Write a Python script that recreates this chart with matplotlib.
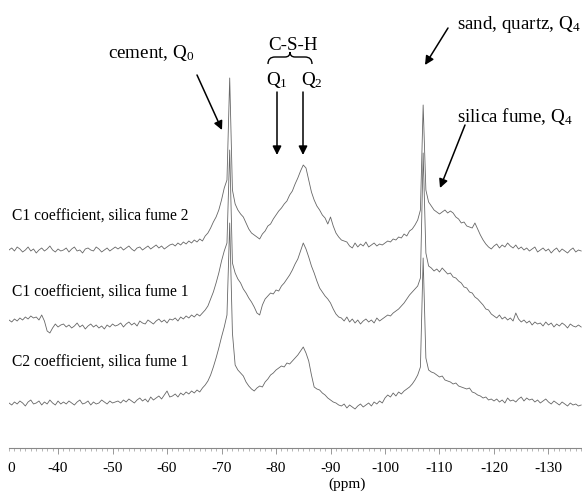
import numpy as np
import matplotlib
matplotlib.use("Agg")
import matplotlib.pyplot as plt
from matplotlib.path import Path
from matplotlib.patches import PathPatch

plt.rcParams['font.family'] = ['Liberation Serif', 'DejaVu Serif']
plt.rcParams['mathtext.fontset'] = 'custom'
plt.rcParams['mathtext.rm'] = 'Liberation Serif'
plt.rcParams['mathtext.it'] = 'Liberation Serif:italic'
plt.rcParams['axes.unicode_minus'] = False

# chemical shift grid, ppm (-31 ... -136, 0.5 ppm step)
ppm = -31 - 0.5 * np.arange(211)

# intensity above own baseline (arbitrary units)
h_c1_sf2 = [0, 2, -1, 3, 1, -2, 0, 3, -1, 1, -3, 0, 2, -1, 1, 4, 0, -2, 1, -1,
            0, 2, -2, 1, 3, -1, 0, -3, 1, 2, 0, -1, 3, 1, -2, 0, 2, -1, 1, 3,
            1, 3, 0, 2, 4, 1, -1, 2, 3, 0, 2, 4, 1, 3, 5, 2, 4, 1, 3, 5,
            6, 4, 7, 5, 8, 6, 9, 7, 10, 8, 11, 9, 14, 17, 22, 28, 33, 40, 50, 62,
            70, 172, 60, 46, 40, 36, 33, 27, 21, 17, 15, 13, 11, 16, 19, 24, 26, 31, 35, 39,
            42, 46, 49, 55, 59, 66, 72, 79, 85, 82, 70, 58, 50, 44, 40, 35, 32, 26, 33, 24,
            17, 13, 10, 9, 8, 4, 2, 7, 3, 6, 4, 8, 3, 5, 7, 4, 6, 5, 7, 9,
            8, 11, 10, 13, 12, 16, 14, 19, 21, 25, 30, 40, 145, 60, 48, 44, 40, 38, 36, 38,
            40, 37, 39, 37, 33, 31, 27, 28, 24, 23, 22, 27, 21, 15, 10, 6, 3, 1, 4, 6,
            2, 5, 3, 7, 4, 2, 5, 1, 3, 0, 2, -1, 1, 3, -2, 0, 2, -1, 1, -3,
            0, 2, -2, 1, -1, -3, 0, 2, -2, 0, -1]
h_c1_sf1 = [3, 1, 4, 2, 5, 3, 6, 4, 7, 5, 6, 3, 8, 2, -8, -10, -5, -1, -4, -2,
            -1, -4, -2, -5, -3, 0, -4, -2, -6, -3, -1, -4, -2, -5, -3, -6, -2, -4, -1, -3,
            -2, 0, -4, -1, 1, -2, 0, -3, 2, 0, -1, 3, 1, -1, 2, 4, 1, 3, 0, 4,
            3, 5, 2, 6, 4, 7, 5, 8, 6, 9, 7, 10, 13, 17, 24, 31, 40, 50, 62, 72,
            80, 173, 60, 50, 44, 40, 34, 30, 25, 21, 16, 10, 8, 18, 24, 27, 30, 29, 33, 32,
            37, 40, 44, 48, 53, 59, 64, 72, 80, 74, 66, 57, 50, 42, 35, 31, 27, 24, 20, 14,
            9, 6, 5, 2, 6, 1, 4, 0, 3, -1, 2, 4, 1, 3, 0, 5, 2, 4, 6, 8,
            7, 10, 12, 14, 17, 20, 24, 28, 31, 34, 37, 45, 170, 70, 57, 55, 52, 54, 51, 55,
            52, 49, 50, 46, 45, 42, 40, 36, 35, 31, 30, 26, 24, 21, 18, 14, 13, 9, 7, 5,
            8, 4, 6, 3, 5, 2, 10, 4, 1, 3, 0, 2, -2, 1, -1, 0, -3, 1, -2, 0,
            -4, -1, -3, 0, -2, -5, -1, -3, -4, -2, -4]
h_c2_sf1 = [0, -2, 1, -1, 2, 0, -3, 1, 3, -1, 0, 2, -2, 1, -1, 3, 0, -2, 2, -1,
            1, -1, 2, 0, -2, 1, 3, -1, 0, 2, -2, 1, -1, 0, 3, 1, -1, 2, 0, 1,
            2, 0, 3, 1, 4, 2, 0, 3, 5, 2, 4, 1, 6, 3, 5, 7, 4, 8, 12, 6,
            7, 9, 6, 10, 8, 11, 9, 12, 10, 13, 11, 15, 18, 22, 28, 36, 45, 55, 66, 76,
            88, 180, 70, 38, 33, 30, 27, 21, 17, 14, 12, 15, 17, 16, 21, 24, 28, 30, 33, 35,
            37, 36, 40, 39, 42, 45, 48, 52, 56, 50, 42, 28, 16, 14, 13, 10, 8, 5, 3, 1,
            0, -2, -3, -1, -5, -2, -4, -6, -3, -1, -4, -2, 0, -3, 1, -1, 2, 0, 5, 8,
            6, 10, 7, 11, 9, 12, 14, 16, 19, 23, 28, 36, 145, 45, 33, 31, 30, 28, 26, 27,
            23, 22, 21, 19, 20, 17, 16, 15, 14, 15, 11, 10, 8, 7, 5, 6, 3, 4, 2, 4,
            1, 3, 0, 5, 2, 3, 1, 4, 6, 2, 5, 3, 4, 1, 3, 0, 2, 4, 1, -1,
            2, 0, -2, 1, -1, -3, 0, -2, -1, -3, -2]

labels = ["C1 coefficient, silica fume 2",
          "C1 coefficient, silica fume 1",
          "C2 coefficient, silica fume 1"]
offsets = [198, 125, 45]
xticks = [-40, -50, -60, -70, -80, -90, -100, -110, -120, -130]

W, H = 582, 492


def px(x, y):
    # pixel position in the picture -> figure fraction
    return (x / W, 1 - y / H)


fig = plt.figure(figsize=(W / 100, H / 100), dpi=100)
ax = fig.add_axes([9 / W, 1 - 448 / H, 1 - 9 / W, 448 / H])
ax.set_xlim(-31.0, -136.15)
ax.set_ylim(0, 448)

for h, off in zip([h_c1_sf2, h_c1_sf1, h_c2_sf1], offsets):
    ax.plot(ppm, np.array(h) + off, color='#666666', lw=0.6)

for s in ['top', 'left', 'right']:
    ax.spines[s].set_visible(False)
ax.spines['bottom'].set_color('#888888')
ax.spines['bottom'].set_linewidth(0.8)
ax.set_yticks([])
ax.set_xticks(xticks)
ax.set_xticklabels([str(t) for t in xticks], fontsize=11)
ax.set_xticks(np.arange(-31, -137, -1), minor=True)
ax.tick_params(axis='x', which='major', length=4, width=0.6, color='#888888', pad=6)
ax.tick_params(axis='x', which='minor', length=2.5, width=0.5, color='#999999')

# what is left of the cropped "-30" label at the left edge
fig.text(*px(11.5, 472), "0", fontsize=11, ha='center', va='baseline')
fig.text(*px(347, 488), "(ppm)", fontsize=11, ha='center', va='baseline')

# trace labels
for lab, yb in zip(labels, [220, 296, 366]):
    fig.text(*px(12, yb), lab, fontsize=11.2, ha='left', va='baseline')

fs = 13.7
fig.text(*px(151, 58), "cement, Q$_0$", fontsize=fs, ha='center', va='baseline')
fig.text(*px(293, 50), "C-S-H", fontsize=fs, ha='center', va='baseline')
fig.text(*px(277, 85), "Q$_1$", fontsize=fs, ha='center', va='baseline')
fig.text(*px(312, 85), "Q$_2$", fontsize=fs, ha='center', va='baseline')
fig.text(*px(519, 29), "sand, quartz, Q$_4$", fontsize=fs, ha='center', va='baseline')
fig.text(*px(515, 122), "silica fume, Q$_4$", fontsize=fs, ha='center', va='baseline')

arrows = [((197, 75), (222, 130)),
          ((277, 92), (277, 155)),
          ((303, 92), (303, 155)),
          ((448, 28), (425, 65)),
          ((465, 125), (440, 188))]
for tail, tip in arrows:
    ax.annotate('', xy=px(*tip), xytext=px(*tail),
                xycoords='figure fraction', textcoords='figure fraction',
                arrowprops=dict(arrowstyle='-|>', lw=1.1, color='black',
                                mutation_scale=13, shrinkA=0, shrinkB=0))

# curly brace over Q1 / Q2
brace = [(268, 64), (268, 57), (275, 57), (285, 57), (290, 57), (290, 52),
         (290, 57), (295, 57), (305, 57), (312, 57), (312, 64)]
codes = [Path.MOVETO, Path.CURVE3, Path.CURVE3, Path.LINETO, Path.CURVE3, Path.CURVE3,
         Path.CURVE3, Path.CURVE3, Path.LINETO, Path.CURVE3, Path.CURVE3]
path = Path([px(x, y) for x, y in brace], codes)
fig.add_artist(PathPatch(path, transform=fig.transFigure, fill=False, lw=1.0, color='black'))

fig.savefig("out.png", dpi=100)
